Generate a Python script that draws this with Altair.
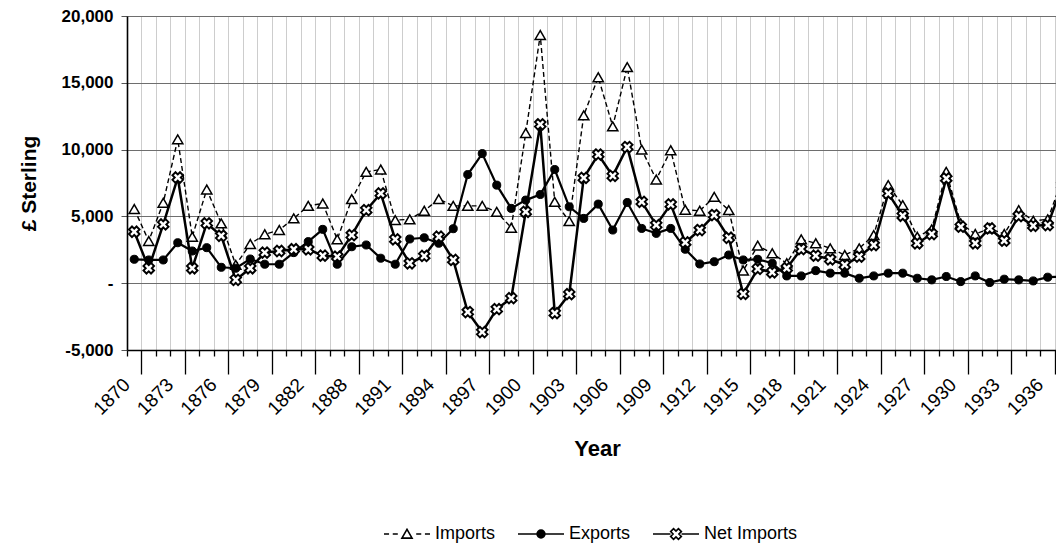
import altair as alt
import pandas as pd

# ---- data ----
years = [str(y) for y in range(1870, 1883)] + ["1886", "1887"] + [str(y) for y in range(1888, 1938)]

imports = [5550, 3160, 6020, 10770, 3480, 7010, 4480, 1370, 2930, 3660, 3980, 4850, 5790,
           5970, 3280,
           6290, 8330, 8510, 4720, 4780, 5420, 6290, 5790, 5790, 5790, 5340,
           4150, 11240, 18580, 6090, 4650, 12560, 15420, 11740, 16170, 10000, 7760, 9950, 5500,
           5420, 6460, 5470, 940, 2810, 2240, 1490, 3280, 2990, 2610, 2110, 2610,
           3600, 7340, 5840, 3480, 4030, 8330, 4480, 3680, 4100, 3680, 5470, 4670, 4780, 7760]

exports = [1790, 1740, 1740, 3030, 2410, 2660, 1190, 1120, 1810, 1420, 1420, 2290, 3110,
           4030, 1420,
           2730, 2860, 1870, 1420, 3310, 3400, 2990, 4080, 8130, 9700, 7340,
           5600, 6220, 6640, 8510, 5720, 4850, 5920, 3980, 6040, 4100, 3730, 4100, 2540,
           1440, 1610, 2110, 1740, 1790, 1490, 545, 545, 940, 750, 750, 370,
           545, 750, 750, 370, 250, 500, 120, 545, 50, 300, 250, 170, 450, 500]

net_imports = [3850, 1120, 4400, 7910, 1120, 4480, 3550, 250, 1120, 2290, 2410, 2540, 2540,
               2060, 1990,
               3600, 5470, 6720, 3280, 1490, 2040, 3480, 1740, -2160, -3660, -1940,
               -1120, 5340, 11890, -2240, -820, 7880, 9630, 8030, 10190, 6090, 4350, 5900, 3050,
               3980, 5100, 3400, -800, 1070, 820, 1120, 2560, 2060, 1790, 1370, 1990,
               2860, 6720, 5050, 2990, 3680, 7840, 4230, 2990, 4100, 3180, 5020, 4300, 4350, 7340]

series_names = ["Imports", "Exports", "Net Imports"]
y_ticks = [-5000, 0, 5000, 10000, 15000, 20000]

rows = []
for name, vals in zip(series_names, [imports, exports, net_imports]):
    for i, (yr, v) in enumerate(zip(years, vals)):
        rows.append({"idx": i, "year": yr, "series": name, "value": v})
df = pd.DataFrame(rows)

N = len(years)
FONT = "Liberation Sans"

label_arr = "[" + ",".join("'%s'" % y for y in years) + "]"
x_axis = alt.Axis(
    values=[k - 0.5 for k in range(N)],
    title="Year",
    titleFont=FONT, titleFontSize=22, titleFontWeight="bold", titleColor="black",
    titleX=470, titleY=98, titleBaseline="middle",
    labelExpr="(round(datum.value+0.5)%3==0) ? " + label_arr + "[round(datum.value+0.5)] : ''",
    labelAngle=-45, labelAlign="right", labelBaseline="top",
    labelOverlap=False, labelFlush=False, labelBound=False,
    labelOffset=-7, labelPadding=19,
    labelFont=FONT, labelFontSize=19, labelColor="black",
    tickSize={"condition": {"test": "round(datum.value+0.5)%3==1", "value": 24}, "value": 6},
    tickColor="black", tickWidth=1.3,
    domainColor="black", domainWidth=1.6,
    grid=True, gridColor="#9a9a9a", gridDash=[1, 1], gridWidth=1,
)

y_axis = alt.Axis(
    values=y_ticks,
    title="£ Sterling",
    titleFont=FONT, titleFontSize=21, titleFontWeight="bold", titleColor="black",
    titleX=-88, titleY=167,
    labelExpr="datum.value == 0 ? '-' : replace(format(datum.value, ','), '\u2212', '-')",
    labelFont=FONT, labelFontSize=17, labelFontWeight="bold", labelColor="black",
    labelPadding=8,
    tickSize=6, tickColor="#555", tickWidth=1,
    domainColor="black", domainWidth=1.6,
    grid=True, gridColor="#6e6e6e", gridWidth=1,
)

x_scale = alt.Scale(domain=[-0.5, 63.57], nice=False, zero=False)
y_scale = alt.Scale(domain=[-5000, 20000], nice=False, zero=False)

base = alt.Chart(df).encode(
    x=alt.X("idx:Q", scale=x_scale, axis=x_axis),
    y=alt.Y("value:Q", scale=y_scale, axis=y_axis),
)

imp = base.transform_filter(alt.datum.series == "Imports")
exp = base.transform_filter(alt.datum.series == "Exports")
net = base.transform_filter(alt.datum.series == "Net Imports")

imp_line = imp.mark_line(color="black", strokeWidth=1.4, strokeDash=[5, 3], clip=True)
imp_pts = imp.mark_point(shape="triangle-up", size=105, filled=True, fill="white",
                         stroke="black", strokeWidth=1.5, opacity=1, clip=True)
exp_line = exp.mark_line(color="black", strokeWidth=2.2, clip=True)
exp_pts = exp.mark_point(shape="circle", size=65, filled=True, fill="black",
                         stroke="black", strokeWidth=1, opacity=1, clip=True)
net_line = net.mark_line(color="black", strokeWidth=2.5, clip=True)
net_pts = net.mark_point(shape="cross", angle=45, size=115, filled=True, fill="white",
                         stroke="black", strokeWidth=1.9, opacity=1, clip=True)

# legend-only layer (no marks drawn): symbols are line + marker paths
legend_paths = [
    "M-1,0H-0.78M-0.62,0H-0.4M-0.22,0.18L0,-0.2L0.22,0.18ZM0.4,0H0.62M0.78,0H1",
    "M-1,0H1M-0.17,0A0.17,0.17,0,1,0,0.17,0A0.17,0.17,0,1,0,-0.17,0Z",
    "M-1,0H-0.24M0.24,0H1M0.233,-0.106L0.127,0L0.233,0.106L0.106,0.233L0,0.127L-0.106,0.233"
    "L-0.233,0.106L-0.127,0L-0.233,-0.106L-0.106,-0.233L0,-0.127L0.106,-0.233Z",
]
legend_fills = ["white", "black", "white"]
legend_strokes = ["black", "black", "black"]
leg = alt.Legend(
    title=None, orient="none", legendX=256, legendY=494, direction="horizontal",
    symbolSize=2116, symbolStrokeWidth=1.6, symbolStrokeColor="black",
    labelFont=FONT, labelFontSize=18, labelColor="black", labelOffset=4,
    columnPadding=18,
)
legend_layer = base.transform_filter("false").mark_point(
    filled=True, stroke="black", strokeWidth=1.6, opacity=1, size=2116
).encode(
    shape=alt.Shape("series:N", scale=alt.Scale(domain=series_names, range=legend_paths), legend=leg),
    fill=alt.Fill("series:N", scale=alt.Scale(domain=series_names, range=legend_fills), legend=leg),
    stroke=alt.Stroke("series:N", scale=alt.Scale(domain=series_names, range=legend_strokes), legend=leg),
)

chart = alt.layer(
    imp_line, imp_pts, exp_line, exp_pts, net_line, net_pts, legend_layer
).properties(
    width=929, height=334,
    padding={"left": 119, "top": 8, "right": 0, "bottom": 194},
    autosize=alt.AutoSizeParams(type="none"),
).configure_view(stroke="transparent").configure(background="white")

chart.save("out.html", embed_options={"renderer": "svg", "actions": False})
